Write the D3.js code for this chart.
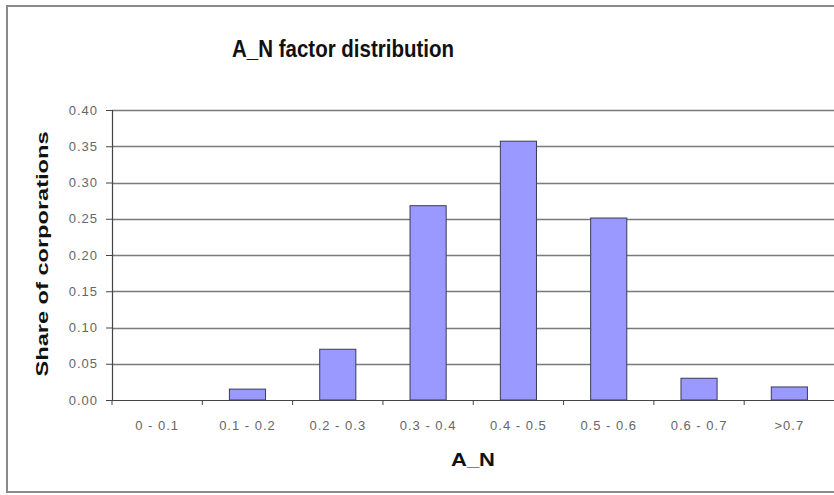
<!DOCTYPE html>
<html lang="en">
<head>
    <meta charset="UTF-8">
    <title>A_N factor distribution</title>
    <script src="https://d3js.org/d3.v7.min.js"></script>
    <style>
        body { margin: 0; background: #fff; }
        svg { display: block; font-family: "Liberation Sans", Arial, sans-serif; }
    </style>
</head>
<body>
    <svg id="chart" width="834" height="495"></svg>

    <script>
        // data
        const categories = ["0 - 0.1", "0.1 - 0.2", "0.2 - 0.3", "0.3 - 0.4", "0.4 - 0.5", "0.5 - 0.6", "0.6 - 0.7", ">0.7"];
        const shares = [0, 0.015, 0.07, 0.268, 0.357, 0.251, 0.03, 0.018];
        const yTicks = [0, 0.05, 0.10, 0.15, 0.20, 0.25, 0.30, 0.35, 0.40];

        const svg = d3.select("#chart");
        const width = 834, height = 495;
        const margin = { top: 110, right: 0, bottom: 95, left: 112 };

        // outer chart border
        svg.append("rect")
            .attr("x", 7).attr("y", 6)
            .attr("width", width + 20).attr("height", 486)
            .attr("fill", "#fff")
            .attr("stroke", "#8a8a8a")
            .attr("stroke-width", 2);

        const x = d3.scaleBand()
            .domain(categories)
            .range([margin.left, width - margin.right + 0.5])
            .paddingInner(0.6)
            .paddingOuter(0.3);

        const y = d3.scaleLinear()
            .domain([0, 0.4])
            .range([height - margin.bottom, margin.top]);

        // gridlines
        svg.append("g")
            .selectAll("line")
            .data(yTicks.slice(1))
            .enter().append("line")
            .attr("x1", margin.left).attr("x2", width)
            .attr("y1", d => Math.round(y(d)) + 0.5)
            .attr("y2", d => Math.round(y(d)) + 0.5)
            .attr("stroke", "#7a7a7a")
            .attr("stroke-width", 1.3);

        // bars
        svg.append("g")
            .selectAll("rect")
            .data(shares)
            .enter().append("rect")
            .attr("x", (d, i) => x(categories[i]))
            .attr("y", d => y(d))
            .attr("width", x.bandwidth())
            .attr("height", d => y(0) - y(d))
            .attr("fill", "#9999ff")
            .attr("stroke", "#3a3a5a")
            .attr("stroke-width", d => d > 0 ? 1 : 0);

        // y axis
        const yAxis = svg.append("g")
            .attr("transform", `translate(${margin.left},0)`)
            .call(d3.axisLeft(y).tickValues(yTicks).tickFormat(d3.format(".2f")).tickSize(6).tickPadding(8));
        yAxis.select(".domain").attr("stroke", "#444").attr("stroke-width", 1.2);
        yAxis.selectAll(".tick line").attr("stroke", "#444");
        yAxis.selectAll(".tick text")
            .attr("fill", "#666")
            .style("font-size", "13px")
            .style("letter-spacing", "1px");

        // x axis: ticks between bands
        const xAxis = svg.append("g")
            .attr("transform", `translate(0,${y(0)})`)
            .call(d3.axisBottom(x).tickSize(0).tickPadding(21));
        xAxis.select(".domain").attr("stroke", "#444").attr("stroke-width", 1.2);
        xAxis.selectAll(".tick text")
            .attr("fill", "#666")
            .style("font-size", "13px")
            .style("letter-spacing", "1px");
        xAxis.selectAll(".sep")
            .data(categories)
            .enter().append("line")
            .attr("class", "sep")
            .attr("x1", d => x(d) - x.step() * x.paddingOuter())
            .attr("x2", d => x(d) - x.step() * x.paddingOuter())
            .attr("y1", 0).attr("y2", 5)
            .attr("stroke", "#444");

        // titles
        svg.append("text")
            .attr("x", 343).attr("y", 57)
            .attr("text-anchor", "middle")
            .attr("textLength", 222)
            .attr("lengthAdjust", "spacingAndGlyphs")
            .style("font-size", "23px")
            .style("font-weight", "bold")
            .attr("fill", "#111")
            .text("A_N factor distribution");

        svg.append("text")
            .attr("x", 473).attr("y", 466)
            .attr("text-anchor", "middle")
            .attr("textLength", 44)
            .attr("lengthAdjust", "spacingAndGlyphs")
            .style("font-size", "18px")
            .style("font-weight", "bold")
            .attr("fill", "#111")
            .text("A_N");

        svg.append("text")
            .attr("transform", "translate(48,254) rotate(-90)")
            .attr("text-anchor", "middle")
            .attr("textLength", 245)
            .attr("lengthAdjust", "spacingAndGlyphs")
            .style("font-size", "17px")
            .style("font-weight", "bold")
            .attr("fill", "#111")
            .text("Share of corporations");
    </script>
</body>
</html>
